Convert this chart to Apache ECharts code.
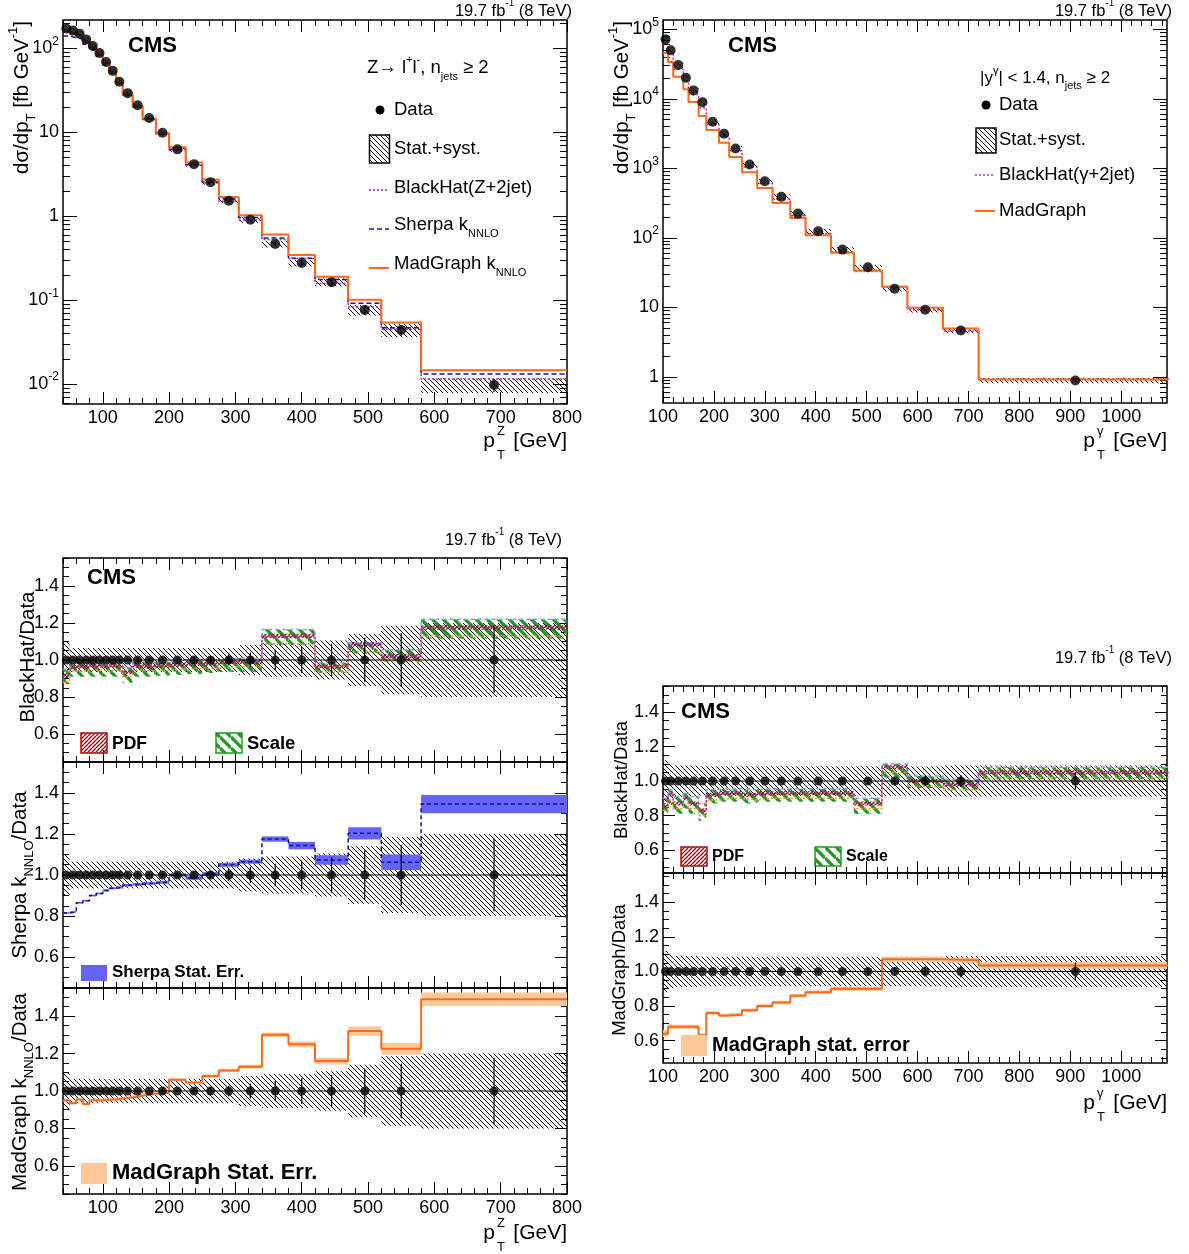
<!DOCTYPE html>
<html><head><meta charset="utf-8">
<script src="https://cdn.jsdelivr.net/npm/echarts@6.0.0/dist/echarts.min.js"></script>
<style>html,body{margin:0;padding:0;background:#fff;}#chart{width:1189px;height:1254px;}</style>
</head><body><div id="chart"></div>
<script>
const FONT = '"Liberation Sans", Arial, Helvetica, sans-serif';

// ================= DATA : Z -> l+l- , njets >= 2 =================
const zEdges = [40,50,60,70,80,90,100,110,120,130,145,160,180,200,225,250,275,305,340,380,420,470,520,580,800];
const zData = [173,163,150,128,107,88,69,54,40,29.3,21,14.8,9.9,6.27,4.18,2.55,1.53,0.91,0.468,0.277,0.164,0.0767,0.0443,0.0098];
const zStatRel = [0.004,0.004,0.004,0.005,0.005,0.006,0.006,0.007,0.008,0.008,0.009,0.010,0.012,0.014,0.016,0.020,0.030,0.040,0.055,0.070,0.087,0.120,0.146,0.178];
const zTotRel = [0.10,0.065,0.065,0.065,0.065,0.065,0.065,0.065,0.065,0.065,0.065,0.065,0.065,0.065,0.065,0.065,0.065,0.08,0.09,0.09,0.105,0.14,0.185,0.20];
const zBlackHat = [158.3,156.5,144.8,123.5,103.8,85.4,66.6,52.4,38.6,27.4,20.4,14.3,9.6,6.11,4.10,2.50,1.51,0.90,0.529,0.313,0.158,0.0832,0.0452,0.0115];
const zSherpa = [141,133.7,129.8,112,96.3,80.1,63.8,50.5,37.6,27.8,20.1,14.2,9.55,6.27,4.12,2.56,1.61,0.969,0.550,0.317,0.176,0.0923,0.0470,0.0132];
const zMadGraph = [164.4,152.4,143.3,119,101.7,83.6,65.9,51.6,38.4,28.3,20.5,14.6,9.8,6.65,4.37,2.75,1.70,1.03,0.608,0.346,0.190,0.101,0.0543,0.0146];
// ratios (Z)
const zRatioBH = [0.915,0.96,0.965,0.965,0.97,0.97,0.965,0.97,0.965,0.935,0.97,0.965,0.97,0.975,0.98,0.98,0.99,0.99,1.13,1.13,0.965,1.085,1.02,1.175];
const zRatioBHUp = [0.95,0.985,0.99,0.99,0.99,0.99,0.985,0.99,0.99,0.96,0.99,0.99,0.99,1.0,1.0,1.0,1.01,1.01,1.165,1.165,0.985,1.095,1.055,1.22];
const zRatioBHDn = [0.87,0.91,0.91,0.91,0.91,0.91,0.91,0.91,0.91,0.875,0.91,0.91,0.915,0.92,0.925,0.93,0.935,0.935,1.08,1.08,0.93,1.035,0.99,1.115];
const zRatioBHAlt = [0.88,0.94,0.94,0.945,0.945,0.945,0.94,0.945,0.94,0.91,0.945,0.94,0.945,0.95,0.955,0.955,0.965,0.965,1.085,1.085,0.935,1.045,0.995,1.13];
const zRatioBHPdf = [0.012,0.012,0.012,0.012,0.012,0.012,0.012,0.012,0.012,0.012,0.012,0.012,0.012,0.012,0.012,0.012,0.012,0.012,0.012,0.012,0.012,0.012,0.012,0.012];
const zRatioSherpa = [0.815,0.82,0.865,0.875,0.90,0.91,0.925,0.935,0.94,0.95,0.955,0.96,0.965,1.0,0.985,1.005,1.05,1.065,1.175,1.143,1.073,1.203,1.062,1.345];
const zRatioSherpaErr = [0.004,0.004,0.004,0.004,0.004,0.004,0.005,0.005,0.005,0.006,0.006,0.006,0.007,0.008,0.008,0.009,0.010,0.010,0.013,0.018,0.023,0.030,0.038,0.044];
const zRatioMG = [0.95,0.935,0.955,0.93,0.95,0.95,0.955,0.955,0.96,0.965,0.975,0.985,0.99,1.06,1.045,1.08,1.11,1.13,1.30,1.25,1.16,1.32,1.225,1.49];
const zRatioMGErr = [0.005,0.005,0.005,0.005,0.005,0.005,0.005,0.005,0.005,0.006,0.006,0.006,0.007,0.007,0.008,0.008,0.009,0.010,0.012,0.015,0.018,0.025,0.031,0.036];

// ================= DATA : gamma , |y|<1.4 , njets >= 2 =================
const gEdges = [100,110,120,140,150,170,185,210,230,255,285,315,350,380,430,475,530,580,650,720,1100];
const gData = [71800,49800,30600,20100,13200,8950,4680,3140,1930,1135,652,388,223,124,67.6,37.6,18.5,9.2,4.65,0.885];
const gStatRel = [0.003,0.003,0.003,0.004,0.004,0.005,0.005,0.006,0.007,0.008,0.009,0.010,0.012,0.014,0.016,0.020,0.025,0.030,0.035,0.050];
const gTotRel = [0.12,0.10,0.09,0.09,0.09,0.085,0.085,0.085,0.085,0.085,0.085,0.085,0.085,0.085,0.085,0.085,0.085,0.085,0.09,0.09];
const gBlackHat = [61750,45800,26620,18090,11480,7430,4306,2920,1795,1044,606,361,207,115,62.9,32.7,20.0,9.2,4.56,0.93];
const gMadGraph = [45950,33860,20800,13670,8980,5640,3560,2340,1450,880,522,318,192,109,60.8,33.8,19.8,9.84,4.95,0.916];
const gRatioBH = [0.86,0.92,0.87,0.90,0.87,0.83,0.92,0.93,0.93,0.92,0.93,0.93,0.93,0.93,0.93,0.87,1.08,1.0,0.98,1.05];
const gRatioBHUp = [0.90,0.95,0.91,0.93,0.91,0.87,0.95,0.955,0.955,0.95,0.955,0.955,0.955,0.955,0.955,0.90,1.10,1.03,1.01,1.08];
const gRatioBHDn = [0.80,0.86,0.81,0.84,0.81,0.77,0.87,0.88,0.88,0.87,0.88,0.88,0.88,0.88,0.88,0.81,1.02,0.96,0.95,1.01];
const gRatioBHAlt = [0.83,0.89,0.84,0.87,0.84,0.80,0.89,0.90,0.90,0.89,0.90,0.90,0.90,0.90,0.90,0.84,1.05,0.97,0.95,1.02];
const gRatioBHPdf = [0.012,0.012,0.012,0.012,0.012,0.012,0.012,0.012,0.012,0.012,0.012,0.012,0.012,0.012,0.012,0.012,0.012,0.012,0.012,0.012];
const gRatioMG = [0.64,0.68,0.68,0.68,0.68,0.63,0.76,0.745,0.75,0.775,0.80,0.82,0.86,0.88,0.90,0.90,1.07,1.07,1.065,1.035];
const gRatioMGErr = [0.02,0.015,0.012,0.012,0.012,0.012,0.01,0.01,0.01,0.01,0.01,0.01,0.01,0.01,0.012,0.012,0.015,0.015,0.015,0.02];

// ================= TICKS =================
const zXMajor = [100,200,300,400,500,600,700,800];
const gXMajor = [100,200,300,400,500,600,700,800,900,1000];
const zYMajor = [0.01,0.1,1,10,100];
const gYMajor = [1,10,100,1000,10000,100000];
const ratioMajor = [0.6,0.8,1.0,1.2,1.4];

function range(a,b,step){const r=[];for(let i=0;a+i*step<=b+1e-9;i++)r.push(+(a+i*step).toFixed(6));return r;}
function logMinor(e0,e1){const r=[];for(let e=e0;e<=e1;e++)for(let k=2;k<=9;k++)r.push(+(k*Math.pow(10,e)).toPrecision(6));return r;}
const zXMinor = range(40,800,20);
const gXMinor = range(100,1090,20);
const ratioMinor = range(0.45,1.6,0.05);
const zYMinor = logMinor(-3,2);
const gYMinor = logMinor(-1,5);

// ================= HELPERS =================
function hatchCanvas(dir, s, w, color){
  const c = document.createElement('canvas'); c.width = s; c.height = s;
  const ctx = c.getContext('2d'); ctx.strokeStyle = color; ctx.lineWidth = w;
  ctx.beginPath();
  for (let k=-1;k<=1;k++){
    if (dir==='\\'){ ctx.moveTo(0,k*s); ctx.lineTo(s,k*s+s); }
    else { ctx.moveTo(0,k*s+s); ctx.lineTo(s,k*s); }
  }
  ctx.stroke();
  return {image:c, repeat:'repeat'};
}
const blackHatch = hatchCanvas('\\',5,1,'#000');
const greenHatch = hatchCanvas('\\',11,3.2,'#1f9a1f');
const redHatch = hatchCanvas('/',4,1.4,'#a00f0f');

function logLabel(v){const e=Math.round(Math.log10(v)); if(e===0)return '1'; if(e===1)return '10'; return '10{sup|'+e+'}';}
function ratioLabel(v){return (Math.round(v*10)/10).toFixed(1);}
function plainLabel(v){return String(Math.round(v));}
const axisRich = {sup:{fontSize:12,fontFamily:FONT,color:'#000',verticalAlign:'top',lineHeight:13}};

const grid=[], xAxis=[], yAxis=[], series=[], gfx=[];
function lab(extra){return Object.assign({show:true,color:'#000',fontFamily:FONT,fontSize:18},extra);}
function addPanel(p){
  const gi = grid.length;
  grid.push({left:p.left,top:p.top,width:p.width,height:p.height,show:true,borderColor:'#000',borderWidth:1.5,backgroundColor:'rgba(0,0,0,0)'});
  const xi = xAxis.length;
  const xb = {gridIndex:gi,type:'value',min:p.xMin,max:p.xMax,splitLine:{show:false},axisLine:{show:false,onZero:false}};
  ['bottom','top'].forEach(pos=>{
    xAxis.push(Object.assign({},xb,{position:pos,
      axisTick:{show:true,inside:true,length:12,customValues:p.xMajor,lineStyle:{color:'#000',width:1}},
      axisLabel:(pos==='bottom'&&p.xLabels)?lab({customValues:p.xMajor,margin:5,formatter:plainLabel}):{show:false}}));
    xAxis.push(Object.assign({},xb,{position:pos,
      axisTick:{show:true,inside:true,length:6,customValues:p.xMinor,lineStyle:{color:'#000',width:1}},
      axisLabel:{show:false}}));
  });
  const yi = yAxis.length;
  const yb = {gridIndex:gi,type:p.yType,min:p.yMin,max:p.yMax,splitLine:{show:false},axisLine:{show:false,onZero:false}};
  if (p.yType==='log') yb.logBase = 10;
  ['left','right'].forEach(pos=>{
    const l = {customValues:p.yMajor,margin:4,formatter:p.yFmt};
    if (p.yRich){ l.rich = p.yRich; l.lineHeight = 26; }
    yAxis.push(Object.assign({},yb,{position:pos,
      axisTick:{show:true,inside:true,length:p.yMajLen||12,customValues:p.yMajor,lineStyle:{color:'#000',width:1}},
      axisLabel:(pos==='left')?lab(l):{show:false}}));
    yAxis.push(Object.assign({},yb,{position:pos,
      axisTick:{show:true,inside:true,length:p.yMinLen||6,customValues:p.yMinor,lineStyle:{color:'#000',width:1}},
      axisLabel:{show:false}}));
  });
  return {x:xi,y:yi,xMin:p.xMin,xMax:p.xMax};
}
function centers(edges){return edges.slice(0,-1).map((e,i)=>(e+edges[i+1])/2);}
function stepSeries(ax, edges, vals, style, z){
  const d=[]; vals.forEach((v,i)=>{d.push([edges[i],v]); d.push([edges[i+1],v]);});
  return {type:'line',xAxisIndex:ax.x,yAxisIndex:ax.y,data:d,symbol:'none',showSymbol:false,silent:true,z:z||4,lineStyle:style,clip:true};
}
function boxSeries(ax, edges, lo, hi, fill, z){
  return {type:'custom',xAxisIndex:ax.x,yAxisIndex:ax.y,silent:true,z:z||1,clip:true,
    data: lo.map((l,i)=>[edges[i],edges[i+1],l,hi[i]]),
    encode:{x:[0,1],y:[2,3]},
    renderItem:(params,api)=>{
      const a=api.coord([api.value(0),api.value(3)]), b=api.coord([api.value(1),api.value(2)]);
      return {type:'rect',shape:{x:a[0],y:a[1],width:b[0]-a[0],height:b[1]-a[1]},style:{fill:fill}};
    }};
}
function errSeries(ax, xs, lo, hi, z){
  return {type:'custom',xAxisIndex:ax.x,yAxisIndex:ax.y,silent:true,z:z||8,clip:true,
    data: xs.map((x,i)=>[x,lo[i],hi[i]]),
    encode:{x:0,y:[1,2]},
    renderItem:(params,api)=>{
      const a=api.coord([api.value(0),api.value(1)]), b=api.coord([api.value(0),api.value(2)]);
      return {type:'line',shape:{x1:a[0],y1:a[1],x2:b[0],y2:b[1]},style:{stroke:'#000',lineWidth:1.2}};
    }};
}
function pointSeries(ax, xs, ys, size){
  return {type:'scatter',xAxisIndex:ax.x,yAxisIndex:ax.y,silent:true,z:9,symbol:'circle',symbolSize:size,
    itemStyle:{color:'#000'},data:xs.map((x,i)=>[x,ys[i]])};
}
function unityLine(ax){
  return {type:'line',xAxisIndex:ax.x,yAxisIndex:ax.y,data:[[ax.xMin,1],[ax.xMax,1]],symbol:'none',silent:true,z:7,lineStyle:{color:'#000',width:1}};
}

// ================= PANELS =================
const P0 = addPanel({left:63,top:20,width:504,height:384,xMin:40,xMax:800,xMajor:zXMajor,xMinor:zXMinor,xLabels:true,
  yType:'log',yMin:0.0058,yMax:218,yMajor:zYMajor,yMinor:zYMinor,yFmt:logLabel,yRich:axisRich,yMajLen:14,yMinLen:7});
const P1 = addPanel({left:663,top:20,width:504,height:383,xMin:100,xMax:1090,xMajor:gXMajor,xMinor:gXMinor,xLabels:true,
  yType:'log',yMin:0.42,yMax:136000,yMajor:gYMajor,yMinor:gYMinor,yFmt:logLabel,yRich:axisRich,yMajLen:14,yMinLen:7});
const ratioCfg = {yType:'value',yMajor:ratioMajor,yMinor:ratioMinor,yFmt:ratioLabel,yMajLen:12,yMinLen:6};
const P2 = addPanel(Object.assign({left:63,top:558,width:504,height:204,xMin:40,xMax:800,xMajor:zXMajor,xMinor:zXMinor,xLabels:false,yMin:0.45,yMax:1.55},ratioCfg));
const P3 = addPanel(Object.assign({left:63,top:762,width:504,height:226,xMin:40,xMax:800,xMajor:zXMajor,xMinor:zXMinor,xLabels:false,yMin:0.45,yMax:1.55},ratioCfg));
const P4 = addPanel(Object.assign({left:63,top:988,width:504,height:206,xMin:40,xMax:800,xMajor:zXMajor,xMinor:zXMinor,xLabels:true,yMin:0.45,yMax:1.55},ratioCfg));
const P5 = addPanel(Object.assign({left:663,top:686,width:504,height:187,xMin:100,xMax:1090,xMajor:gXMajor,xMinor:gXMinor,xLabels:false,yMin:0.467,yMax:1.551},ratioCfg));
const P6 = addPanel(Object.assign({left:663,top:873,width:504,height:190,xMin:100,xMax:1090,xMajor:gXMajor,xMinor:gXMinor,xLabels:true,yMin:0.47,yMax:1.57},ratioCfg));

const zC = centers(zEdges), gC = centers(gEdges);
const STY = {
  bh:{color:'#c21ec2',width:1.5,type:[2,2]},
  sherpa:{color:'#1414a8',width:1.5,type:[5,3]},
  mg:{color:'#ff6a1a',width:2},
  bhUp:{color:'#8da0e8',width:1.5,type:[4,3]},
  bhAlt:{color:'#ff9a30',width:1.5,type:[2,2]}
};

// top-left spectrum
series.push(boxSeries(P0,zEdges,zData.map((d,i)=>d*(1-zTotRel[i])),zData.map((d,i)=>d*(1+zTotRel[i])),blackHatch,1));
series.push(stepSeries(P0,zEdges,zBlackHat,STY.bh,4));
series.push(stepSeries(P0,zEdges,zSherpa,STY.sherpa,4));
series.push(stepSeries(P0,zEdges,zMadGraph,STY.mg,5));
series.push(errSeries(P0,zC,zData.map((d,i)=>d*(1-zStatRel[i])),zData.map((d,i)=>d*(1+zStatRel[i]))));
series.push(pointSeries(P0,zC,zData,10));

// top-right spectrum
series.push(boxSeries(P1,gEdges,gData.map((d,i)=>d*(1-gTotRel[i])),gData.map((d,i)=>d*(1+gTotRel[i])),blackHatch,1));
series.push(stepSeries(P1,gEdges,gBlackHat,STY.bh,4));
series.push(stepSeries(P1,gEdges,gMadGraph,STY.mg,5));
series.push(errSeries(P1,gC,gData.map((d,i)=>d*(1-gStatRel[i])),gData.map((d,i)=>d*(1+gStatRel[i]))));
series.push(pointSeries(P1,gC,gData,10));

function ratioBase(ax, edges, c, tot, stat){
  series.push(boxSeries(ax,edges,tot.map(r=>1-r),tot.map(r=>1+r),blackHatch,1));
  series.push(unityLine(ax));
  series.push(errSeries(ax,c,stat.map(r=>1-r),stat.map(r=>1+r)));
  series.push(pointSeries(ax,c,c.map(()=>1),9));
}
// Z BlackHat ratio
series.push(boxSeries(P2,zEdges,zRatioBHDn,zRatioBHUp,greenHatch,2));
series.push(boxSeries(P2,zEdges,zRatioBH.map((v,i)=>v-zRatioBHPdf[i]),zRatioBH.map((v,i)=>v+zRatioBHPdf[i]),redHatch,3));
series.push(stepSeries(P2,zEdges,zRatioBHUp,STY.bhUp,4));
series.push(stepSeries(P2,zEdges,zRatioBHAlt,STY.bhAlt,4));
series.push(stepSeries(P2,zEdges,zRatioBH,STY.bh,5));
ratioBase(P2,zEdges,zC,zTotRel,zStatRel);
// Z Sherpa ratio
series.push(boxSeries(P3,zEdges,zRatioSherpa.map((v,i)=>v-zRatioSherpaErr[i]),zRatioSherpa.map((v,i)=>v+zRatioSherpaErr[i]),'#6464f8',2));
series.push(stepSeries(P3,zEdges,zRatioSherpa,{color:'#10108a',width:1.5,type:[4,3]},5));
ratioBase(P3,zEdges,zC,zTotRel,zStatRel);
// Z MadGraph ratio
series.push(boxSeries(P4,zEdges,zRatioMG.map((v,i)=>v-zRatioMGErr[i]),zRatioMG.map((v,i)=>v+zRatioMGErr[i]),'#ffc898',2));
series.push(stepSeries(P4,zEdges,zRatioMG,STY.mg,5));
ratioBase(P4,zEdges,zC,zTotRel,zStatRel);
// gamma BlackHat ratio
series.push(boxSeries(P5,gEdges,gRatioBHDn,gRatioBHUp,greenHatch,2));
series.push(boxSeries(P5,gEdges,gRatioBH.map((v,i)=>v-gRatioBHPdf[i]),gRatioBH.map((v,i)=>v+gRatioBHPdf[i]),redHatch,3));
series.push(stepSeries(P5,gEdges,gRatioBHUp,STY.bhUp,4));
series.push(stepSeries(P5,gEdges,gRatioBHAlt,STY.bhAlt,4));
series.push(stepSeries(P5,gEdges,gRatioBH,STY.bh,5));
ratioBase(P5,gEdges,gC,gTotRel,gStatRel);
// gamma MadGraph ratio
series.push(boxSeries(P6,gEdges,gRatioMG.map((v,i)=>v-gRatioMGErr[i]),gRatioMG.map((v,i)=>v+gRatioMGErr[i]),'#ffc898',2));
series.push(stepSeries(P6,gEdges,gRatioMG,STY.mg,5));
ratioBase(P6,gEdges,gC,gTotRel,gStatRel);

// ================= TEXT & LEGENDS =================
function T(x,y,text,o){
  o=o||{}; const size=o.size||17; const w=o.bold?'bold':'normal';
  const tok={fontSize:Math.round(size*0.62),fontFamily:FONT,fontWeight:w,lineHeight:Math.round(size*0.7),fill:o.color||'#000'};
  gfx.push({type:'text',x:x,y:y,rotation:o.rot||0,z:100,silent:true,
    style:{text:text,fill:o.color||'#000',fontSize:size,fontFamily:FONT,fontWeight:w,
      align:o.align||'left',verticalAlign:o.va||'middle',lineHeight:Math.round(size*1.5),
      rich:{sup:Object.assign({verticalAlign:'top'},tok),sub:Object.assign({verticalAlign:'bottom'},tok)}}});
}
function L(x1,y1,x2,y2,stroke,w,dash){gfx.push({type:'line',z:100,silent:true,shape:{x1,y1,x2,y2},style:{stroke,lineWidth:w,lineDash:dash||null}});}
function R(x,y,wd,ht,fill,stroke,lw){gfx.push({type:'rect',z:100,silent:true,shape:{x,y,width:wd,height:ht},style:{fill,stroke:stroke||null,lineWidth:lw||0}});}
function C(cx,cy,r){gfx.push({type:'circle',z:100,silent:true,shape:{cx,cy,r},style:{fill:'#000'}});}
function xTitle(xr,y,sup){
  T(xr,y,'[GeV]',{size:21,align:'right'});
  T(xr-72,y,'p',{size:21,align:'right'});
  T(xr-70,y-10,sup,{size:13});
  T(xr-70,y+14,'T',{size:13});
}
const lumi='19.7 fb{sup|-1} (8 TeV)';
T(572,11,lumi,{size:16.5,align:'right'});
T(1172,11,lumi,{size:16.5,align:'right'});
T(562,540,lumi,{size:16.5,align:'right'});
T(1172,658,lumi,{size:16.5,align:'right'});
T(128,46,'CMS',{size:22,bold:true});
T(728,46,'CMS',{size:22,bold:true});
T(87,578,'CMS',{size:22,bold:true});
T(681,712,'CMS',{size:22,bold:true});
// axis titles
T(22,21,'dσ/dp{sub|T} [fb GeV{sup|-1}]',{size:20.5,rot:Math.PI/2,align:'right'});
T(622,21,'dσ/dp{sub|T} [fb GeV{sup|-1}]',{size:20.5,rot:Math.PI/2,align:'right'});
xTitle(567,441,'Z');
xTitle(1167,441,'γ');
xTitle(567,1233,'Z');
xTitle(1167,1103,'γ');
T(28,657,'BlackHat/Data',{size:20.5,rot:Math.PI/2,align:'center'});
T(20,875,'Sherpa k{sub|NNLO}/Data',{size:20.5,rot:Math.PI/2,align:'center'});
T(20,1092,'MadGraph k{sub|NNLO}/Data',{size:20.5,rot:Math.PI/2,align:'center'});
T(622,780,'BlackHat/Data',{size:18.5,rot:Math.PI/2,align:'center'});
T(620,970,'MadGraph/Data',{size:18.5,rot:Math.PI/2,align:'center'});
// legend top-left
T(367,68,'Z→ l{sup|+}l{sup|-}, n{sub|jets} ≥ 2',{size:18.5});
C(380,110,4.5); T(394,110,'Data',{size:18.5});
R(369.5,135,20,28,blackHatch,'#000',1.5); T(394,149,'Stat.+syst.',{size:18.5});
L(369,190,389,190,'#c21ec2',1.5,[2,2]); T(394,188,'BlackHat(Z+2jet)',{size:18.5});
L(369,229,389,229,'#1414a8',1.5,[5,3]); T(394,225,'Sherpa k{sub|NNLO}',{size:18.5});
L(369,268,389,268,'#ff6a1a',2); T(394,264,'MadGraph k{sub|NNLO}',{size:18.5});
// legend top-right
T(980,78,'|y{sup|γ}| < 1.4, n{sub|jets} ≥ 2',{size:17});
C(986,105,4.5); T(999,105,'Data',{size:18.5});
R(976,128,20,25,blackHatch,'#000',1.5); T(999,140,'Stat.+syst.',{size:18.5});
L(975,175,995,175,'#c21ec2',1.5,[2,2]); T(999,175,'BlackHat(γ+2jet)',{size:18.5});
L(975,211,995,211,'#ff6a1a',2); T(999,211,'MadGraph',{size:18.5});
// ratio legends
R(81,733,26,20,redHatch,'#a00f0f',1.5); T(112,744,'PDF',{size:17.5,bold:true});
R(216,733,26,20,greenHatch,'#1f9a1f',1.5); T(247,744,'Scale',{size:18.5,bold:true});
R(81,965,26,16,'#6464f8'); T(112,972,'Sherpa Stat. Err.',{size:17,bold:true});
R(81,1163,26,21,'#ffc898'); T(112,1173,'MadGraph Stat. Err.',{size:22,bold:true});
R(681,847,26,19,redHatch,'#a00f0f',1.5); T(712,857,'PDF',{size:16,bold:true});
R(815,847,26,19,greenHatch,'#1f9a1f',1.5); T(846,857,'Scale',{size:16,bold:true});
R(681,1035,26,21,'#ffc898'); T(712,1045,'MadGraph stat. error',{size:20,bold:true});

const chart = echarts.init(document.getElementById('chart'),null,{renderer:'canvas'});
chart.setOption({animation:false,backgroundColor:'#fff',grid,xAxis,yAxis,series,graphic:{elements:gfx}});
</script></body></html>
